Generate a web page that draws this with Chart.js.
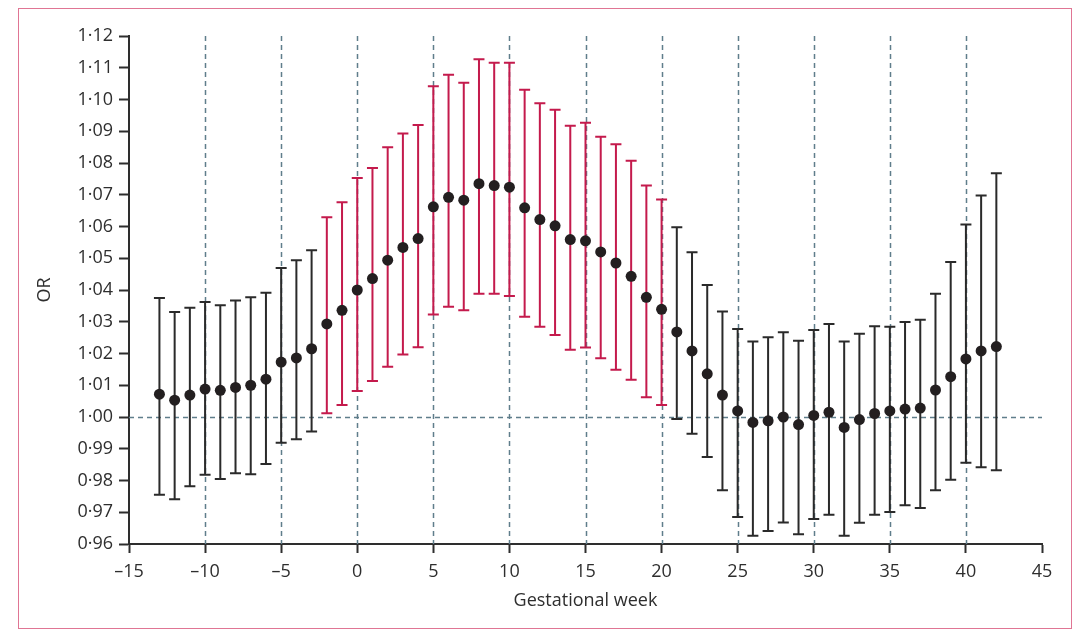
<!DOCTYPE html>
<html>
<head>
<meta charset="utf-8">
<script src="https://cdn.jsdelivr.net/npm/chart.js@4"></script>
<style>
  html, body { margin: 0; padding: 0; background: #fff; }
  #wrap { position: relative; width: 1080px; height: 636px; }
  #frame { position: absolute; left: 18px; top: 8px; width: 1052px; height: 619px; border: 1.5px solid #e07594; }
  canvas { position: absolute; left: 0; top: 0; }
</style>
</head>
<body>
<div id="wrap">
  <div id="frame"></div>
  <canvas id="grafico" width="1080" height="636"></canvas>
</div>
<script>
// semanas gestacionales
const semanas = [-13, -12, -11, -10, -9, -8, -7, -6, -5, -4, -3, -2, -1, 0, 1, 2, 3, 4, 5, 6, 7, 8, 9, 10,
  11, 12, 13, 14, 15, 16, 17, 18, 19, 20, 21, 22, 23, 24, 25, 26, 27, 28, 29, 30, 31, 32, 33, 34, 35,
  36, 37, 38, 39, 40, 41, 42];

// odds ratio estimado
const oddsRatio = [1.0072, 1.0053, 1.0069, 1.0088, 1.0084, 1.0093, 1.0100, 1.0119, 1.0173, 1.0186, 1.0215,
  1.0293, 1.0336, 1.0400, 1.0436, 1.0494, 1.0534, 1.0562, 1.0662, 1.0692, 1.0683, 1.0735, 1.0729, 1.0724,
  1.0659, 1.0622, 1.0602, 1.0559, 1.0555, 1.0520, 1.0485, 1.0443, 1.0377, 1.0339, 1.0268, 1.0208, 1.0136,
  1.0069, 1.0019, 0.9983, 0.9988, 1.0000, 0.9976, 1.0005, 1.0015, 0.9967, 0.9992, 1.0011, 1.0019, 1.0025,
  1.0028, 1.0085, 1.0127, 1.0183, 1.0208, 1.0222];

// intervalo de confianza inferior
const icInferior = [0.9755, 0.9741, 0.9782, 0.9818, 0.9805, 0.9823, 0.9820, 0.9852, 0.9919, 0.9930, 0.9954,
  1.0012, 1.0038, 1.0082, 1.0113, 1.0158, 1.0197, 1.0220, 1.0323, 1.0347, 1.0336, 1.0388, 1.0388, 1.0381,
  1.0316, 1.0284, 1.0258, 1.0212, 1.0219, 1.0185, 1.0149, 1.0117, 1.0062, 1.0038, 0.9994, 0.9947, 0.9874,
  0.9769, 0.9685, 0.9626, 0.9641, 0.9668, 0.9631, 0.9679, 0.9692, 0.9626, 0.9667, 0.9692, 0.9701, 0.9722,
  0.9713, 0.9769, 0.9802, 0.9856, 0.9842, 0.9832];

// intervalo de confianza superior
const icSuperior = [1.0375, 1.0331, 1.0344, 1.0362, 1.0352, 1.0367, 1.0377, 1.0391, 1.0469, 1.0494, 1.0525,
  1.0629, 1.0676, 1.0753, 1.0784, 1.0850, 1.0893, 1.0920, 1.1042, 1.1078, 1.1053, 1.1127, 1.1116, 1.1116,
  1.1031, 1.0988, 1.0968, 1.0917, 1.0927, 1.0883, 1.0859, 1.0807, 1.0729, 1.0685, 1.0598, 1.0519, 1.0416,
  1.0332, 1.0277, 1.0238, 1.0251, 1.0267, 1.0240, 1.0274, 1.0293, 1.0238, 1.0262, 1.0286, 1.0284, 1.0299,
  1.0306, 1.0388, 1.0488, 1.0606, 1.0698, 1.0768];

const ticksX = [-15, -10, -5, 0, 5, 10, 15, 20, 25, 30, 35, 40, 45];
const ticksY = [0.96, 0.97, 0.98, 0.99, 1.00, 1.01, 1.02, 1.03, 1.04, 1.05, 1.06, 1.07, 1.08, 1.09, 1.10, 1.11, 1.12];
const lineasVerticales = [-10, -5, 0, 5, 10, 15, 20, 25, 30, 35, 40];
const lineaReferencia = 1.00;

const colorTexto = '#2e2e2e';
const colorPunto = '#231f20';
const colorRojo = '#c41a4c';
const colorGuia = '#5f7e8b';

// guias punteadas y barras de error
const pluginErrores = {
  id: 'errores',
  beforeDatasetsDraw(chart) {
    const { ctx, chartArea, scales: { x, y } } = chart;
    ctx.save();
    ctx.strokeStyle = colorGuia;
    ctx.lineWidth = 1.5;
    ctx.setLineDash([5, 4]);
    lineasVerticales.forEach(v => {
      const px = Math.round(x.getPixelForValue(v)) + 0.5;
      ctx.beginPath();
      ctx.moveTo(px, chartArea.top);
      ctx.lineTo(px, chartArea.bottom);
      ctx.stroke();
    });
    const py = Math.round(y.getPixelForValue(lineaReferencia)) + 0.5;
    ctx.beginPath();
    ctx.moveTo(chartArea.left, py);
    ctx.lineTo(chartArea.right, py);
    ctx.stroke();
    ctx.setLineDash([]);

    ctx.lineWidth = 2;
    semanas.forEach((s, i) => {
      const px = x.getPixelForValue(s);
      const yLo = y.getPixelForValue(icInferior[i]);
      const yHi = y.getPixelForValue(icSuperior[i]);
      ctx.strokeStyle = icInferior[i] > 1 ? colorRojo : '#2a2a2a';
      ctx.beginPath();
      ctx.moveTo(px, yLo);
      ctx.lineTo(px, yHi);
      ctx.moveTo(px - 5.5, yLo);
      ctx.lineTo(px + 5.5, yLo);
      ctx.moveTo(px - 5.5, yHi);
      ctx.lineTo(px + 5.5, yHi);
      ctx.stroke();
    });
    ctx.restore();
  }
};

function sinRelleno(scale) {
  scale.paddingLeft = 0;
  scale.paddingRight = 0;
  scale.paddingTop = 0;
  scale.paddingBottom = 0;
}

const fuente = { family: "'Open Sans', sans-serif", size: 18 };

new Chart(document.getElementById('grafico').getContext('2d'), {
  type: 'scatter',
  data: {
    datasets: [{
      data: semanas.map((s, i) => ({ x: s, y: oddsRatio[i] })),
      backgroundColor: colorPunto,
      borderColor: colorPunto,
      pointRadius: 5.5,
      pointHoverRadius: 5.5,
      borderWidth: 0
    }]
  },
  options: {
    responsive: false,
    animation: false,
    events: [],
    layout: { padding: { left: 0, top: 36, right: 38, bottom: 20 } },
    plugins: {
      legend: { display: false },
      tooltip: { enabled: false }
    },
    scales: {
      x: {
        type: 'linear',
        min: -15,
        max: 45,
        afterBuildTicks: scale => { scale.ticks = ticksX.map(v => ({ value: v })); },
        afterFit: scale => { scale.height = 72; sinRelleno(scale); },
        grid: { drawOnChartArea: false, tickLength: 9, tickColor: colorTexto, tickWidth: 2 },
        border: { color: colorTexto, width: 2 },
        ticks: {
          color: colorTexto,
          font: fuente,
          padding: 8,
          maxRotation: 0,
          callback: v => v < 0 ? '\u2013' + Math.abs(v) : String(v)
        },
        title: {
          display: true,
          text: 'Gestational week',
          color: colorTexto,
          font: fuente,
          padding: { top: 8, bottom: 4 }
        }
      },
      y: {
        type: 'linear',
        min: 0.96,
        max: 1.12,
        afterBuildTicks: scale => { scale.ticks = ticksY.map(v => ({ value: v })); },
        afterFit: scale => { scale.width = 129; sinRelleno(scale); },
        grid: { drawOnChartArea: false, tickLength: 10, tickColor: colorTexto, tickWidth: 2 },
        border: { color: colorTexto, width: 2 },
        ticks: {
          color: colorTexto,
          font: fuente,
          padding: 6,
          callback: v => v.toFixed(2).replace('.', '\u00b7')
        },
        title: {
          display: true,
          text: 'OR',
          color: colorTexto,
          font: fuente,
          padding: { top: 34, bottom: 0 }
        }
      }
    }
  },
  plugins: [pluginErrores]
});
</script>
</body>
</html>
